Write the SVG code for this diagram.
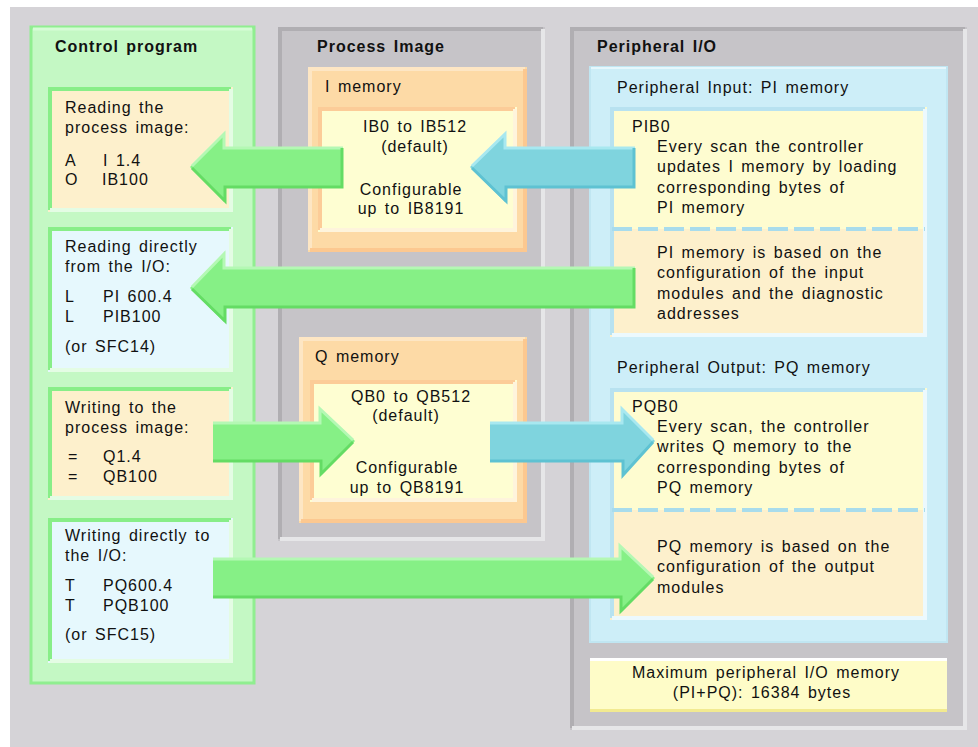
<svg xmlns="http://www.w3.org/2000/svg" width="978" height="747" viewBox="0 0 978 747">
<style>
text{font-family:"Liberation Sans",Arial,sans-serif;font-size:16px;letter-spacing:1px;word-spacing:2px;fill:#111}
.b{font-weight:bold}
.c{text-anchor:middle}
.gpanel{fill:#c6c4c8}
.gdark{fill:none;stroke:#b0aeb2;stroke-width:4}
.glight{fill:none;stroke:#e6e6e8;stroke-width:4}
.cbox-b{fill:#fdf0cc}
.cbox-l{fill:#e6f8fd}
.gtl{fill:none;stroke:#88ee88;stroke-width:4}
.gbr{fill:none;stroke:#e4fce4;stroke-width:4}
.omem{fill:#fddaa6}
.otl{fill:none;stroke:#fde6c4;stroke-width:4}
.obr{fill:none;stroke:#fcc890;stroke-width:4}
.ymem{fill:#fefed2}
.ytl{fill:none;stroke:#fccc98;stroke-width:4}
.ybr{fill:none;stroke:#fef4dc;stroke-width:4}
.btl{fill:none;stroke:#b8e2f0;stroke-width:4}
.bbr{fill:none;stroke:#ecf9fd;stroke-width:4}
.dash{fill:none;stroke:#a8dcec;stroke-width:4;stroke-dasharray:20 6}
.ga{fill:#86f086}
.gal{fill:none;stroke:#b4f8b4;stroke-width:3}
.gad{fill:none;stroke:#64dc64;stroke-width:3}
.ba{fill:#7fd4de}
.bal{fill:none;stroke:#a8e8f0;stroke-width:3}
.bad{fill:none;stroke:#5ec2d2;stroke-width:3}
</style>
<rect x="0" y="0" width="978" height="747" fill="#ffffff"/>
<rect x="10" y="7" width="968" height="740" fill="#d5d3d7"/>

<g id="control-program">
<rect x="31" y="27" width="223" height="656" fill="#c4f8c4" stroke="#90ee90" stroke-width="3"/>
<path d="M33,29 H252" fill="none" stroke="#d6fcd6" stroke-width="3"/>
<text x="55" y="52" class="b">Control program</text>
</g>

<g id="read-pi">
<rect x="48" y="87" width="185" height="125" class="cbox-b"/>
<path d="M50,210 V89 H231" class="gtl"/>
<path d="M231,89 V210 H50" class="gbr"/>
<text x="65" y="113">Reading the</text>
<text x="65" y="133">process image:</text>
<text x="65" y="166">A</text><text x="103" y="166">I 1.4</text>
<text x="65" y="185">O</text><text x="102" y="185">IB100</text>
</g>

<g id="read-io">
<rect x="48" y="227" width="185" height="145" class="cbox-l"/>
<path d="M50,370 V229 H231" class="gtl"/>
<path d="M231,229 V370 H50" class="gbr"/>
<text x="65" y="252">Reading directly</text>
<text x="65" y="272">from the I/O:</text>
<text x="65" y="302">L</text><text x="103" y="302">PI 600.4</text>
<text x="65" y="322">L</text><text x="103" y="322">PIB100</text>
<text x="65" y="352">(or SFC14)</text>
</g>

<g id="write-pi">
<rect x="48" y="387" width="185" height="113" class="cbox-b"/>
<path d="M50,498 V389 H231" class="gtl"/>
<path d="M231,389 V498 H50" class="gbr"/>
<text x="65" y="413">Writing to the</text>
<text x="65" y="433">process image:</text>
<text x="68" y="462">=</text><text x="103" y="462">Q1.4</text>
<text x="68" y="482">=</text><text x="103" y="482">QB100</text>
</g>

<g id="write-io">
<rect x="48" y="518" width="185" height="145" class="cbox-l"/>
<path d="M50,661 V520 H231" class="gtl"/>
<path d="M231,520 V661 H50" class="gbr"/>
<text x="65" y="541">Writing directly to</text>
<text x="65" y="561">the I/O:</text>
<text x="65" y="591">T</text><text x="103" y="591">PQ600.4</text>
<text x="65" y="611">T</text><text x="103" y="611">PQB100</text>
<text x="65" y="640">(or SFC15)</text>
</g>

<g id="process-image">
<rect x="278" y="27" width="267" height="514" class="gpanel"/>
<path d="M280,539 V29 H543" class="gdark"/>
<path d="M543,29 V539 H280" class="glight"/>
<text x="317" y="52" class="b">Process Image</text>
</g>

<g id="i-memory">
<rect x="308" y="67" width="219" height="185" class="omem"/>
<path d="M310,250 V69 H525" class="otl"/>
<path d="M525,69 V250 H310" class="obr"/>
<text x="325" y="92">I memory</text>
<rect x="318" y="107" width="199" height="125" class="ymem"/>
<path d="M320,230 V109 H515" class="ytl"/>
<path d="M515,109 V230 H320" class="ybr"/>
<text x="415" y="132" class="c">IB0 to IB512</text>
<text x="415" y="152" class="c">(default)</text>
<text x="411" y="195" class="c">Configurable</text>
<text x="411" y="214" class="c">up to IB8191</text>
</g>

<g id="q-memory">
<rect x="299" y="337" width="228" height="186" class="omem"/>
<path d="M301,521 V339 H525" class="otl"/>
<path d="M525,339 V521 H301" class="obr"/>
<text x="315" y="362">Q memory</text>
<rect x="310" y="380" width="207" height="122" class="ymem"/>
<path d="M312,500 V382 H515" class="ytl"/>
<path d="M515,382 V500 H312" class="ybr"/>
<text x="411" y="402" class="c">QB0 to QB512</text>
<text x="406" y="421" class="c">(default)</text>
<text x="407" y="473" class="c">Configurable</text>
<text x="407" y="493" class="c">up to QB8191</text>
</g>

<g id="peripheral-io">
<rect x="570" y="27" width="397" height="703" class="gpanel"/>
<path d="M572,728 V29 H965" class="gdark"/>
<path d="M965,29 V728 H572" class="glight"/>
<text x="597" y="52" class="b">Peripheral I/O</text>
<rect x="590" y="67" width="357" height="575" fill="#cdeef8" stroke="#c0e6f2" stroke-width="2"/>
<path d="M591,68 H946" fill="none" stroke="#e6f7fc" stroke-width="2"/>
</g>

<g id="pi-memory">
<text x="617" y="93">Peripheral Input: PI memory</text>
<rect x="610" y="107" width="317" height="122" fill="#fefcd0"/>
<rect x="610" y="229" width="317" height="108" fill="#fdf0cc"/>
<path d="M612,335 V109 H925" class="btl"/>
<path d="M925,109 V335 H612" class="bbr"/>
<path d="M612,229 H925" class="dash"/>
<text x="632" y="132">PIB0</text>
<text x="657" y="152">Every scan the controller</text>
<text x="657" y="172">updates I memory by loading</text>
<text x="657" y="193">corresponding bytes of</text>
<text x="657" y="213">PI memory</text>
<text x="657" y="258">PI memory is based on the</text>
<text x="657" y="278">configuration of the input</text>
<text x="657" y="299">modules and the diagnostic</text>
<text x="657" y="319">addresses</text>
</g>

<g id="pq-memory">
<text x="617" y="373">Peripheral Output: PQ memory</text>
<rect x="610" y="388" width="317" height="122" fill="#fefcd0"/>
<rect x="610" y="510" width="317" height="110" fill="#fdf0cc"/>
<path d="M612,618 V390 H925" class="btl"/>
<path d="M925,390 V618 H612" class="bbr"/>
<path d="M612,510 H925" class="dash"/>
<text x="632" y="412">PQB0</text>
<text x="657" y="432">Every scan, the controller</text>
<text x="657" y="452">writes Q memory to the</text>
<text x="657" y="473">corresponding bytes of</text>
<text x="657" y="493">PQ memory</text>
<text x="657" y="552">PQ memory is based on the</text>
<text x="657" y="572">configuration of the output</text>
<text x="657" y="593">modules</text>
</g>

<g id="max-memory">
<rect x="590" y="658" width="357" height="54" fill="#fefcc8"/>
<path d="M590,659.5 H947" fill="none" stroke="#ffffff" stroke-width="3"/>
<path d="M590,710.5 H947" fill="none" stroke="#f2ea90" stroke-width="3"/>
<text x="766" y="678" class="c">Maximum peripheral I/O memory</text>
<text x="762" y="698" class="c">(PI+PQ): 16384 bytes</text>
</g>

<g id="connectors">
<g id="arrow-i-to-read">
<polygon points="190,167 224,133 224,147 343,147 343,188 224,188 224,202" class="ga"/>
<polyline points="192,166 224,134 224,148 343,148" class="gal"/>
<polyline points="342,148 342,187 225,187 225,201 192,168" class="gad"/>
</g>
<g id="arrow-pi-to-i">
<polygon points="470,167 505,133 505,147 635,147 635,188 505,188 505,202" class="ba"/>
<polyline points="472,166 505,134 505,148 635,148" class="bal"/>
<polyline points="634,148 634,187 506,187 506,201 472,168" class="bad"/>
</g>
<g id="arrow-pi-to-readio">
<polygon points="190,288 224,253 224,267 635,267 635,308 224,308 224,322" class="ga"/>
<polyline points="192,287 224,254 224,268 635,268" class="gal"/>
<polyline points="634,268 634,307 225,307 225,321 192,289" class="gad"/>
</g>
<g id="arrow-write-to-q">
<polygon points="213,422 320,422 320,408 355,441 320,475 320,462 213,462" class="ga"/>
<polyline points="213,423 320,423 320,409 353,440" class="gal"/>
<polyline points="353,442 321,474 321,461 213,461" class="gad"/>
</g>
<g id="arrow-q-to-pq">
<polygon points="490,422 622,422 622,408 655,441 622,476 622,462 490,462" class="ba"/>
<polyline points="490,423 622,423 622,409 653,440" class="bal"/>
<polyline points="653,442 623,475 623,461 490,461" class="bad"/>
</g>
<g id="arrow-writeio-to-pq">
<polygon points="213,558 620,558 620,545 655,578 620,612 620,598 213,598" class="ga"/>
<polyline points="213,559 620,559 620,546 653,577" class="gal"/>
<polyline points="653,579 621,611 621,597 213,597" class="gad"/>
</g>
</g>
</svg>
